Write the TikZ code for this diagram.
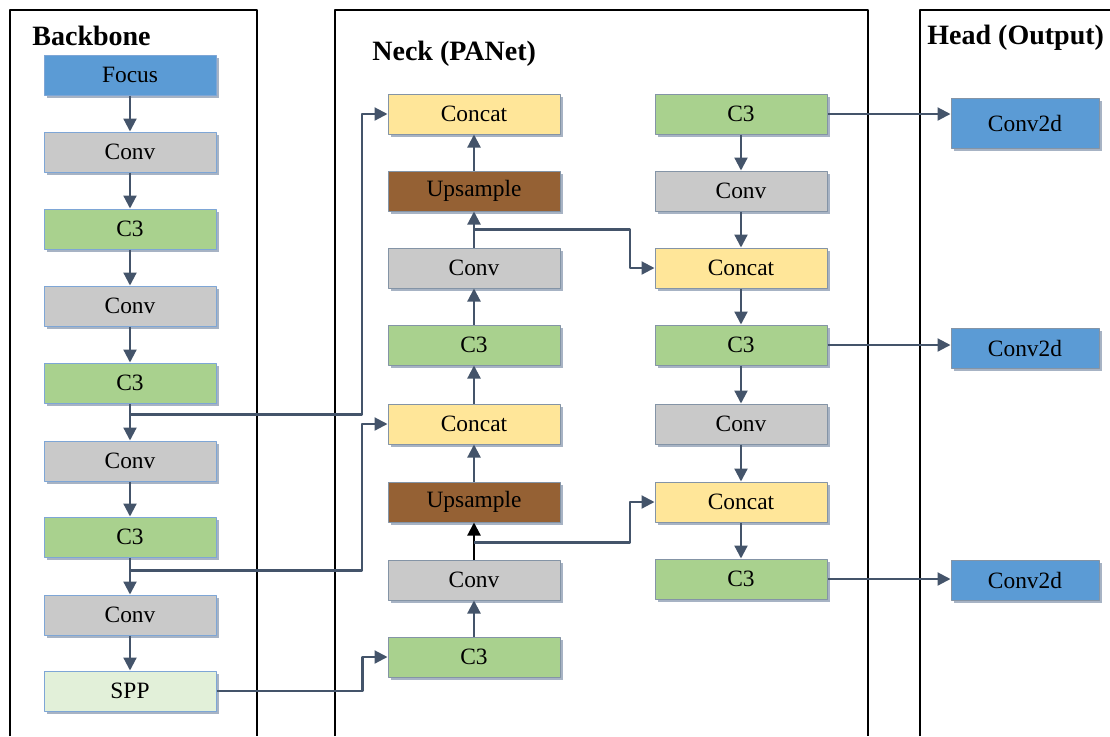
\documentclass[tikz,border=0pt]{standalone}
\usepackage{fontspec}
\setmainfont{Liberation Serif}
\usetikzlibrary{arrows.meta,shadows,calc}
\definecolor{focusblue}{HTML}{5B9BD5}
\definecolor{convgray}{HTML}{C9C9C9}
\definecolor{cgreen}{HTML}{A9D18E}
\definecolor{catyellow}{HTML}{FFE699}
\definecolor{upbrown}{HTML}{956134}
\definecolor{sppgreen}{HTML}{E2F0D9}
\definecolor{linkc}{HTML}{44546A}
\definecolor{bbedge}{HTML}{7EA6D6}
\definecolor{nkedge}{HTML}{8494A6}
\definecolor{shade}{HTML}{A7B3C4}
\tikzset{
 blk/.style={minimum width=86pt,minimum height=20pt,inner sep=0pt,line width=.5pt,
  font=\fontsize{11.7}{14}\selectfont,
  drop shadow={shadow xshift=1.5pt,shadow yshift=-1.5pt,fill=shade,opacity=1}},
 bb/.style={blk,draw=bbedge,fill=#1},
 nk/.style={blk,draw=nkedge,fill=#1},
 title/.style={anchor=west,inner sep=0pt,font=\bfseries\fontsize{14}{17}\selectfont},
 link/.style={draw=linkc,line width=1.1pt,-{Triangle[length=6.5pt,width=6.5pt]}},
}
\begin{document}
\begin{tikzpicture}[x=.5pt,y=-.5pt,line join=round]
 \useasboundingbox (0,0) rectangle (1110,736);
 % frames
 \draw[line width=1pt] (10,736)--(10,10)--(257,10)--(257,736);
 \draw[line width=1pt] (335,736)--(335,10)--(868,10)--(868,736);
 \draw[line width=1pt] (920,736)--(920,10)--(1115,10);
 \node[title] (tb) at (32,36) {Backbone};
 \node[title] (tn) at (372,54) {Neck (PANet)};
 \node[title] (th) at (927,38) {Head (Output)};
 % backbone
 \node[bb=focusblue] (focus) at (130,75) {Focus};
 \node[bb=convgray] (bconv1) at (130,152) {Conv};
 \node[bb=cgreen] (bc31) at (130,229) {C3};
 \node[bb=convgray] (bconv2) at (130,306) {Conv};
 \node[bb=cgreen] (bc32) at (130,383) {C3};
 \node[bb=convgray] (bconv3) at (130,461) {Conv};
 \node[bb=cgreen] (bc33) at (130,537) {C3};
 \node[bb=convgray] (bconv4) at (130,615) {Conv};
 \node[bb=sppgreen] (spp) at (130,691) {SPP};
 % neck, up path
 \node[nk=catyellow] (ncat1) at (474,114) {Concat};
 \node[nk=upbrown] (nup1) at (474,191) {Upsample};
 \node[nk=convgray] (nconv1) at (474,268) {Conv};
 \node[nk=cgreen] (nc31) at (474,345) {C3};
 \node[nk=catyellow] (ncat2) at (474,424) {Concat};
 \node[nk=upbrown] (nup2) at (474,502) {Upsample};
 \node[nk=convgray] (nconv2) at (474,580) {Conv};
 \node[nk=cgreen] (nc32) at (474,657) {C3};
 % neck, down path
 \node[nk=cgreen] (pc31) at (741,114) {C3};
 \node[nk=convgray] (pconv1) at (741,191) {Conv};
 \node[nk=catyellow] (pcat1) at (741,268) {Concat};
 \node[nk=cgreen] (pc32) at (741,345) {C3};
 \node[nk=convgray] (pconv2) at (741,424) {Conv};
 \node[nk=catyellow] (pcat2) at (741,502) {Concat};
 \node[nk=cgreen] (pc33) at (741,579) {C3};
 % head
 \node[nk=focusblue,minimum width=74pt,minimum height=25pt] (out1) at (1025,123) {Conv2d};
 \node[nk=focusblue,minimum width=74pt] (out2) at (1025,348) {Conv2d};
 \node[nk=focusblue,minimum width=74pt] (out3) at (1025,580) {Conv2d};
 % links
 \foreach \a/\b in {focus/bconv1,bconv1/bc31,bc31/bconv2,bconv2/bc32,bc32/bconv3,
  bconv3/bc33,bc33/bconv4,bconv4/spp,nc32/nconv2,ncat2/nc31,nc31/nconv1,
  nconv1/nup1,nup1/ncat1,pc31/pconv1,pconv1/pcat1,pcat1/pc32,pc32/pconv2,
  pconv2/pcat2,pcat2/pc33}
  \draw[link] (\a) -- (\b);
 \draw[link,draw=black,-{Triangle[length=6.5pt,width=6.5pt]}] (nconv2) -- (nup2);
 \draw[link] (nup2) -- (ncat2);
 \coordinate (j1) at ($(bc32.south)+(0,11)$);
 \coordinate (j2) at ($(bc33.south)+(0,13)$);
 \coordinate (j3) at ($(nconv2.north)+(0,-17)$);
 \coordinate (j4) at ($(nconv1.north)+(0,-18)$);
 \draw[link] (j1) -- ++(232,0) |- (ncat1.west);
 \draw[link] (j2) -- ++(232,0) |- (ncat2.west);
 \draw[link] (spp.east) -- ++(146,0) |- (nc32.west);
 \draw[link] (j3) -- ++(156,0) |- (pcat2.west);
 \draw[link] (j4) -- ++(156,0) |- (pcat1.west);
 \draw[link] (pc31.east) -- (pc31.east -| out1.west);
 \draw[link] (pc32.east) -- (pc32.east -| out2.west);
 \draw[link] (pc33.east) -- (pc33.east -| out3.west);
\end{tikzpicture}
\end{document}
